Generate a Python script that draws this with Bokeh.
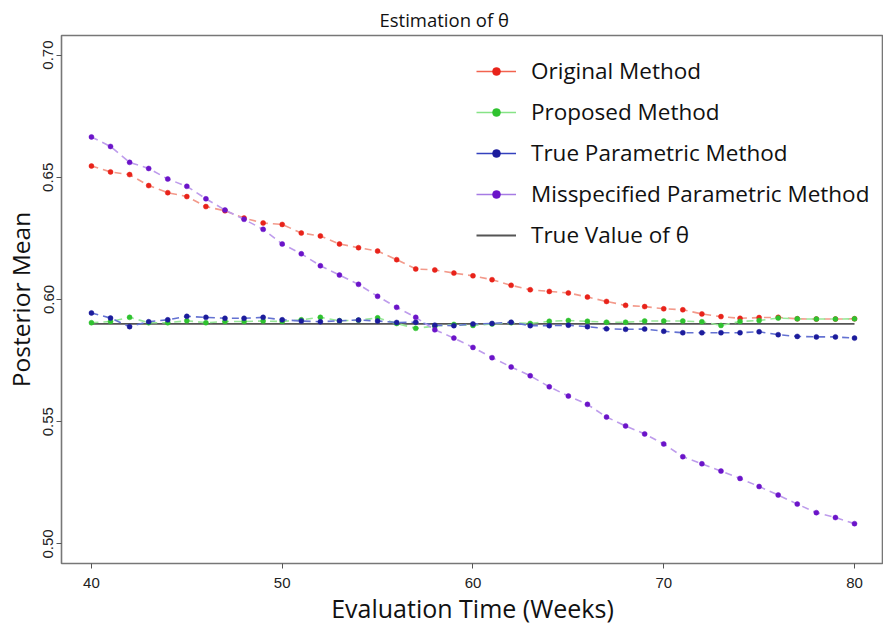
import numpy as np
from bokeh.plotting import figure
from bokeh.models import (ColumnDataSource, Range1d, FixedTicker, Legend, LegendItem, Title)
from bokeh.embed import file_html
from bokeh.resources import INLINE

weeks = [40, 41, 42, 43, 44, 45, 46, 47, 48, 49, 50, 51, 52, 53, 54, 55, 56, 57, 58, 59, 60,
         61, 62, 63, 64, 65, 66, 67, 68, 69, 70, 71, 72, 73, 74, 75, 76, 77, 78, 79, 80]

original = [0.6546, 0.6522, 0.6511, 0.6466, 0.6437, 0.6421, 0.6380, 0.6363, 0.6333, 0.6313,
            0.6307, 0.6272, 0.6260, 0.6227, 0.6212, 0.6198, 0.6163, 0.6125, 0.6121, 0.6108,
            0.6097, 0.6081, 0.6058, 0.6040, 0.6033, 0.6027, 0.6010, 0.5992, 0.5976, 0.5971,
            0.5962, 0.5958, 0.5941, 0.5930, 0.5923, 0.5926, 0.5927, 0.5921, 0.5920, 0.5920, 0.5921]

proposed = [0.5905, 0.5910, 0.5927, 0.5905, 0.5905, 0.5913, 0.5905, 0.5910, 0.5910, 0.5912,
            0.5910, 0.5917, 0.5927, 0.5913, 0.5915, 0.5925, 0.5902, 0.5882, 0.5891, 0.5898,
            0.5894, 0.5900, 0.5905, 0.5902, 0.5911, 0.5914, 0.5911, 0.5907, 0.5907, 0.5912,
            0.5912, 0.5912, 0.5909, 0.5894, 0.5910, 0.5914, 0.5924, 0.5921, 0.5920, 0.5920, 0.5921]

true_param = [0.5945, 0.5924, 0.5889, 0.5909, 0.5917, 0.5931, 0.5927, 0.5923, 0.5923, 0.5927,
              0.5917, 0.5912, 0.5909, 0.5913, 0.5916, 0.5912, 0.5906, 0.5907, 0.5895, 0.5893,
              0.5900, 0.5902, 0.5907, 0.5893, 0.5893, 0.5895, 0.5889, 0.5880, 0.5878, 0.5879,
              0.5870, 0.5864, 0.5864, 0.5864, 0.5864, 0.5868, 0.5856, 0.5849, 0.5847, 0.5847, 0.5842]

misspecified = [0.6665, 0.6626, 0.6561, 0.6536, 0.6493, 0.6463, 0.6412, 0.6366, 0.6328, 0.6287,
                0.6227, 0.6187, 0.6138, 0.6100, 0.6062, 0.6013, 0.5968, 0.5927, 0.5876, 0.5842,
                0.5804, 0.5762, 0.5724, 0.5688, 0.5643, 0.5605, 0.5571, 0.5519, 0.5483, 0.5450,
                0.5409, 0.5357, 0.5328, 0.5298, 0.5268, 0.5235, 0.5200, 0.5163, 0.5128, 0.5108, 0.5083]

true_value = 0.59
true_value_span = [40, 80]

x_ticks = [40, 50, 60, 70, 80]
y_ticks = [0.50, 0.55, 0.60, 0.65, 0.70]
y_tick_labels = ["0.50", "0.55", "0.60", "0.65", "0.70"]

title_text = "Estimation of θ"
x_label = "Evaluation Time (Weeks)"
y_label = "Posterior Mean"
series_names = ["Original Method", "Proposed Method", "True Parametric Method",
                "Misspecified Parametric Method"]
true_value_name = "True Value of θ"

# styles
dash_colors = ["#F39A8B", "#98E898", "#6472D2", "#BE9CEC"]
point_colors = ["#E8231A", "#2FC22F", "#1C1C9C", "#6B14C9"]
legend_line_colors = ["#F2634F", "#86E386", "#3442BE", "#A67BE4"]

W, H = 883, 630
p = figure(width=W, height=H, output_backend="svg", toolbar_location=None,
           x_range=Range1d(38.43, 81.52), y_range=Range1d(0.492, 0.708),
           min_border_left=60, min_border_right=0, min_border_top=35, min_border_bottom=67)
p.title.visible = False
p.add_layout(Title(text=title_text, align="left", offset=318, standoff=8,
                   text_font="Open Sans", text_font_size="18.5px", text_font_style="normal",
                   text_color="#111111"), "above")

p.xgrid.visible = False
p.ygrid.visible = False
p.outline_line_color = "#777777"
p.outline_line_width = 1.6
p.background_fill_color = "white"
p.border_fill_color = "white"

for ax in (p.xaxis[0], p.yaxis[0]):
    ax.axis_line_color = None
    ax.major_tick_line_color = "#555555"
    ax.major_tick_in = 0
    ax.major_tick_out = 5
    ax.minor_tick_line_color = None
    ax.major_label_text_font = "Liberation Sans"
    ax.major_label_text_font_size = "15px"
    ax.major_label_text_color = "#222222"
    ax.axis_label_text_font = "Open Sans"
    ax.axis_label_text_font_style = "normal"
    ax.axis_label_text_color = "#111111"

p.xaxis.axis_label_text_font_size = "25px"
p.yaxis.axis_label_text_font_size = "24.5px"
p.xaxis.ticker = FixedTicker(ticks=x_ticks)
p.yaxis.ticker = FixedTicker(ticks=y_ticks)
p.yaxis.major_label_overrides = {t: l for t, l in zip(y_ticks, y_tick_labels)}
p.yaxis.major_label_orientation = "vertical"
p.xaxis.axis_label = x_label
p.yaxis.axis_label = y_label
p.xaxis.major_label_standoff = 9
p.xaxis.axis_label_standoff = 0
p.yaxis.major_label_standoff = 3
p.yaxis.axis_label_standoff = 4

# true value line
tv = p.line(x=true_value_span, y=[true_value, true_value], line_color="#555555", line_width=1.8)

items = []
all_series = [original, proposed, true_param, misspecified]
for name, vals, dc, pc, lc in zip(series_names, all_series, dash_colors, point_colors, legend_line_colors):
    src = ColumnDataSource(dict(x=weeks, y=vals))
    p.line("x", "y", source=src, line_color=dc, line_width=1.6, line_dash="7 5")
    sc = p.scatter("x", "y", source=src, size=5, fill_color=pc, line_color=pc, line_width=0.5)
    # legend-only solid line (no visible mark)
    dummy = p.line(x=np.array([np.nan]), y=np.array([np.nan]), line_color=lc, line_width=1.6)
    items.append(LegendItem(label=name, renderers=[dummy, sc]))

items.append(LegendItem(label=true_value_name, renderers=[tv]))

legend = Legend(items=items, location=(415, 313), padding=0, margin=0,
                spacing=10, glyph_width=40, glyph_height=20, label_height=20,
                label_standoff=15, label_text_font="Open Sans", label_text_font_size="22.5px",
                label_text_color="#111111", border_line_color=None,
                background_fill_alpha=0)
p.add_layout(legend, "center")

open("out.html", "w").write(file_html(p, INLINE))
